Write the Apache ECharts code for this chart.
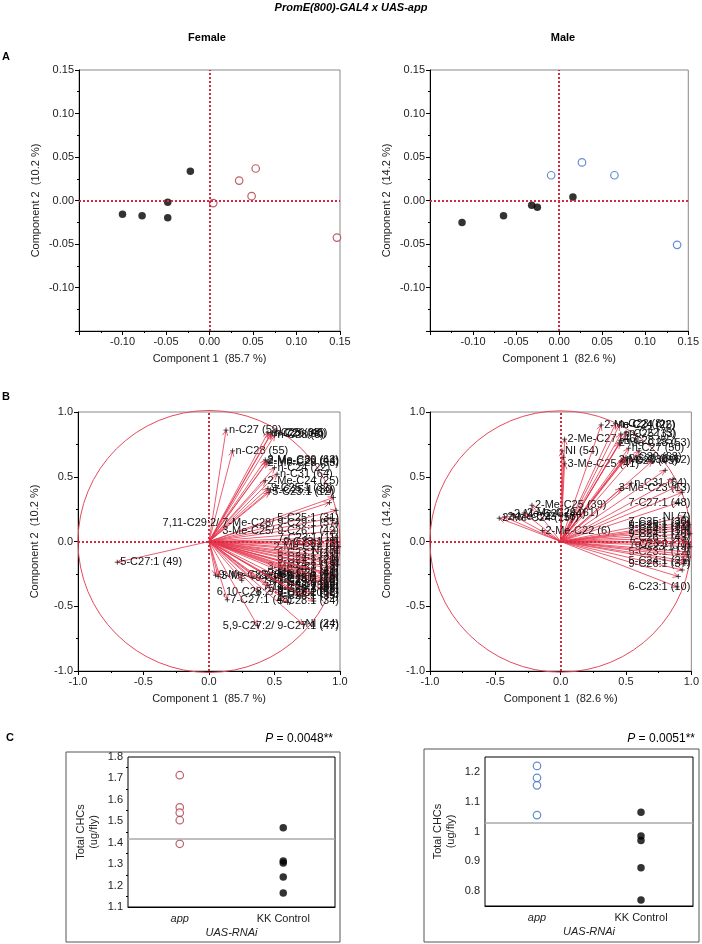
<!DOCTYPE html>
<html>
<head>
<meta charset="utf-8">
<script src="https://cdn.jsdelivr.net/npm/echarts@6/dist/echarts.min.js"></script>
<style>
html, body { margin: 0; padding: 0; background: #fff; }
#chart { width: 702px; height: 944px; }
</style>
</head>
<body>
<div id="chart"></div>
<script>
// ---- panel A : PCA scores ----
var femaleAppX = [0.0043, 0.0341, 0.0484, 0.0531, 0.1465];
var femaleAppY = [-0.003, 0.0229, 0.005, 0.0368, -0.0426];
var femaleCtrlX = [-0.100, -0.0775, -0.048, -0.048, -0.022];
var femaleCtrlY = [-0.0159, -0.0174, -0.002, -0.0198, 0.0337];
var maleAppX = [-0.0093, 0.0265, 0.0642, 0.137];
var maleAppY = [0.029, 0.0438, 0.029, -0.051];
var maleCtrlX = [-0.1128, -0.0646, -0.0319, -0.0253, 0.016];
var maleCtrlY = [-0.0252, -0.0175, -0.0054, -0.0078, 0.0039];

// ---- panel B : loadings ----
var femaleLoadNames = [
  "n-C27 (59)", "n-C28 (55)", "n-C25 (33)", "n-C29 (60)", "n-C23 (8)", "n-C26 (45)",
  "2-Me-C30 (62)", "2-Me-C28 (53)", "2-Me-C26 (44)", "n-C24 (22)", "n-C31 (64)", "2-Me-C24 (25)",
  "9-C25:1 (32)", "7-C25:1 (30)", "5-C23:1 (12)", "", "", "",
  "5-C25:1 (31)", "7,11-C29:2/ 7-Me-C28/ 9-C29:1 (57)", "3-Me-C25/ 9-C26:1 (42)",
  "7-C23:1 (11)", "9-C23:1 (9)", "n-C22 (5)", "2-Me-C22 (6)", "NI (7)", "6-C23:1 (10)",
  "5-C24:1 (21)", "9-C24:1 (20)", "n-C21 (1)", "7-C24:1 (19)", "3-Me-C23 (13)", "7-C26:1 (43)",
  "9-C27:1 (46)", "7,11-C25:2 (28)", "5,9-C25:2 (29)", "9-C29:1 (56)", "n-C30 (63)",
  "7,11-C26:2 (38)", "5,9-C24:2 (17)", "7,11-C24:2 (18)", "9-Me-C26 (41)",
  "5-C27:1 (49)", "9-Me-C25 (36)", "3-Me-C25 (40)", "6,10-C28:2/ 9-C28:1 (52)", "7-C27:1 (48)",
  "NI (24)", "5,9-C27:2/ 9-C27:1 (47)", "9-C27:2 (51)", "7-C28:1 (54)", "5-C29:1 (58)",
  "9-C26:1 (37)", "5-C26:1 (35)", "n-C20 (2)", "5-C28:1 (34)", "", ""
];
var femaleLoadX = [
  0.13, 0.18, 0.45, 0.47, 0.50, 0.48,
  0.43, 0.44, 0.45, 0.50, 0.52, 0.43,
  0.45, 0.47, 0.46, 0.95, 0.92, 0.97,
  0.93, 0.97, 0.96,
  0.97, 0.98, 0.96, 0.99, 0.97, 0.98,
  0.96, 0.97, 0.95, 0.98, 0.94, 0.96,
  0.93, 0.95, 0.92, 0.94, 0.90,
  0.91, 0.88, 0.86, 0.88,
  -0.70, 0.05, 0.07, 0.38, 0.14,
  0.72, 0.37, 0.33, 0.45, 0.55,
  0.62, 0.70, 0.78, 0.80, 0.60, 0.25
];
var femaleLoadY = [
  0.86, 0.70, 0.84, 0.83, 0.82, 0.84,
  0.63, 0.61, 0.62, 0.57, 0.52, 0.47,
  0.41, 0.40, 0.38, 0.34, 0.30, 0.24,
  0.18, 0.14, 0.08,
  0.03, 0.00, -0.02, -0.04, -0.07, -0.09,
  -0.12, -0.14, -0.16, -0.18, -0.20, -0.22,
  -0.25, -0.27, -0.29, -0.31, -0.33,
  -0.35, -0.37, -0.30, -0.24,
  -0.16, -0.26, -0.27, -0.39, -0.45,
  -0.64, -0.65, -0.28, -0.34, -0.40,
  -0.37, -0.42, -0.40, -0.46, -0.47, -0.30
];
var maleLoadNames = [
  "2-Me-C27 (46)", "NI (54)", "3-Me-C25 (41)", "", "2-Me-C24 (26)", "n-C23 (8)",
  "n-C24 (22)", "n-C25 (33)", "n-C22 (5)", "n-C28 (55)", "2-Me-C28 (53)", "n-C27 (50)",
  "n-C29 (60)", "2-Me-C30 (62)", "n-C26 (45)", "n-C30 (63)", "n-C31 (64)", "3-Me-C23 (13)",
  "7-C27:1 (48)", "", "", "2-Me-C25 (39)", "2-Me-C26 (44)", "2-Me-C24 (25)",
  "2-Me-C23 (16)", "2-Me-C29 (61)", "2-Me-C22 (6)", "NI (7)", "7-C25:1 (30)", "9-C25:1 (32)",
  "5-C25:1 (31)", "7-C24:1 (19)", "9-C24:1 (20)", "7-C26:1 (43)", "7-C23:1 (11)", "9-C23:1 (9)",
  "5-C23:1 (12)", "5-C24:1 (21)", "9-C26:1 (37)", "6-C23:1 (10)", "", "",
  "", "", "", "", "", "", ""
];
var maleLoadX = [
  0.03, 0.01, 0.03, 0.02, 0.31, 0.42,
  0.45, 0.46, 0.50, 0.46, 0.45, 0.52,
  0.48, 0.49, 0.47, 0.50, 0.54, 0.46,
  0.90, 0.93, 0.88, -0.22, -0.38, -0.47,
  -0.43, -0.28, -0.14, 0.95, 0.97, 0.98,
  0.96, 0.97, 0.99, 0.95, 0.98, 0.99,
  0.97, 0.96, 0.95, 0.89, 0.97, 0.98,
  0.93, 0.90, 0.96, 0.86, 0.80, 0.70, 0.60
];
var maleLoadY = [
  0.79, 0.70, 0.60, 0.65, 0.90, 0.91,
  0.90, 0.83, 0.84, 0.78, 0.76, 0.72,
  0.64, 0.63, 0.62, 0.65, 0.45, 0.41,
  0.30, 0.38, 0.42, 0.28, 0.21, 0.18,
  0.19, 0.22, 0.085, 0.19, 0.15, 0.13,
  0.11, 0.09, 0.06, 0.03, -0.02, -0.04,
  -0.08, -0.15, -0.17, -0.35, -0.10, -0.12,
  -0.22, -0.27, 0.00, 0.48, 0.55, 0.62, 0.70
];

// ---- panel C : total CHCs ----
var groups = ["app", "KK Control"];
var femaleAppTotal = [1.715, 1.565, 1.54, 1.505, 1.395];
var femaleCtrlTotal = [1.47, 1.315, 1.305, 1.24, 1.165];
var femaleMean = 1.42;
var maleAppTotal = [1.22, 1.18, 1.155, 1.055];
var maleCtrlTotal = [1.065, 0.985, 0.97, 0.878, 0.77];
var maleMean = 1.03;
var maleTotalTicks = [0.8, 0.9, 1, 1.1, 1.2];

var FONT = "Arial, 'Liberation Sans', sans-serif";
var red = "#b03544";
var blue = "#3e6fc0";
var arrowColor = "#e5364c";
var refLine = {
  silent: true,
  symbol: "none",
  label: { show: false },
  lineStyle: { type: "dotted", color: "#d8283c", width: 2 },
  data: [{ xAxis: 0 }, { yAxis: 0 }]
};

var ctx = document.createElement("canvas").getContext("2d");
ctx.font = "11px " + FONT;

function pairs(xs, ys) {
  return xs.map(function (x, i) { return [x, ys[i]]; });
}

function arrows(names) {
  return function (params, api) {
    var o = api.coord([0, 0]);
    var p = api.coord([api.value(0), api.value(1)]);
    var dx = p[0] - o[0], dy = p[1] - o[1];
    var len = Math.sqrt(dx * dx + dy * dy) || 1;
    var ux = dx / len, uy = dy / len;
    var h = 6, c = Math.cos(0.45), s = Math.sin(0.45);
    var l1 = [p[0] - h * (ux * c - uy * s), p[1] - h * (uy * c + ux * s)];
    var l2 = [p[0] - h * (ux * c + uy * s), p[1] - h * (uy * c - ux * s)];
    var edge = api.coord([1, 0])[0];
    var kids = [
      { type: "line", shape: { x1: o[0], y1: o[1], x2: p[0], y2: p[1] }, style: { stroke: arrowColor, lineWidth: 0.8 } },
      { type: "polyline", shape: { points: [l1, p, l2] }, style: { stroke: arrowColor, fill: null, lineWidth: 0.8 } },
      { type: "line", shape: { x1: p[0] - 2.5, y1: p[1], x2: p[0] + 2.5, y2: p[1] }, style: { stroke: "#222", lineWidth: 0.8 } },
      { type: "line", shape: { x1: p[0], y1: p[1] - 2.5, x2: p[0], y2: p[1] + 2.5 }, style: { stroke: "#222", lineWidth: 0.8 } }
    ];
    var name = names[params.dataIndex];
    if (name) {
      var w = ctx.measureText(name).width;
      var tx = Math.min(p[0] + 3, edge - w - 1);
      kids.push({
        type: "text", x: tx, y: p[1],
        style: {
          text: name, fill: "#111", font: "11px " + FONT,
          textAlign: "left", align: "left",
          textVerticalAlign: "middle", verticalAlign: "middle"
        }
      });
    }
    return { type: "group", children: kids };
  };
}

function circle(params, api) {
  var o = api.coord([0, 0]);
  var r = api.size([1, 1])[0];
  return {
    type: "circle",
    shape: { cx: o[0], cy: o[1], r: r },
    style: { fill: null, stroke: "#e44a5c", lineWidth: 1 }
  };
}

var axisText = { fontSize: 11, color: "#222", fontFamily: FONT };
function valueAxis(grid, min, max, step, digits, name, showMin, vertical) {
  return {
    type: "value", gridIndex: grid, min: min, max: max, interval: step,
    name: name, nameLocation: "middle", nameGap: vertical ? 38 : 22,
    nameTextStyle: { fontSize: 11, color: "#222", fontFamily: FONT },
    axisLine: { onZero: false, lineStyle: { color: "#000", width: 1 } },
    axisTick: { length: 4, lineStyle: { color: "#000" } },
    minorTick: { show: true, splitNumber: 2, length: 2, lineStyle: { color: "#000" } },
    splitLine: { show: false },
    axisLabel: Object.assign({ margin: 5, showMinLabel: showMin, formatter: function (v) { return v.toFixed(digits); } }, axisText)
  };
}

function catAxis(grid) {
  return {
    type: "category", gridIndex: grid, data: groups,
    name: "UAS-RNAi", nameLocation: "middle", nameGap: 20,
    nameTextStyle: { fontSize: 11, fontStyle: "italic", color: "#222", fontFamily: FONT },
    axisLine: { lineStyle: { color: "#000" } },
    axisTick: { length: 4, lineStyle: { color: "#000" } },
    axisLabel: Object.assign({
      margin: 6,
      formatter: function (v) { return v === "app" ? "{i|app}" : v; },
      rich: { i: { fontStyle: "italic", fontSize: 11, fontFamily: FONT, color: "#222" } }
    }, axisText)
  };
}

function totalAxis(grid, min, max, step, fmt) {
  return {
    type: "value", gridIndex: grid, min: min, max: max, interval: step,
    name: "Total CHCs\n(ug/fly)", nameLocation: "middle", nameGap: 28,
    nameTextStyle: { fontSize: 11, color: "#222", fontFamily: FONT, lineHeight: 13 },
    axisLine: { lineStyle: { color: "#000" } },
    axisTick: { length: 4, lineStyle: { color: "#000" } },
    minorTick: { show: true, splitNumber: 2, length: 2, lineStyle: { color: "#000" } },
    splitLine: { show: false },
    axisLabel: Object.assign({ margin: 5, formatter: fmt }, axisText)
  };
}

// male total axis: labels and long ticks at 0.1 steps, short ticks at 0.05 steps
var maleTotalAxis = totalAxis(5, 0.75, 1.25, 0.05, function (v) { return String(+v.toFixed(2)); });
maleTotalAxis.minorTick = { show: false };
maleTotalAxis.axisTick.customValues = maleTotalTicks;
maleTotalAxis.axisLabel.customValues = maleTotalTicks;
var maleMinorAxis = {
  type: "value", gridIndex: 5, min: 0.75, max: 1.25, interval: 0.05,
  axisLine: { show: false }, axisLabel: { show: false }, splitLine: { show: false },
  axisTick: { length: 2, lineStyle: { color: "#000" } }
};

function openDots(data, color, xi, yi, mark) {
  var s = {
    type: "scatter", xAxisIndex: xi, yAxisIndex: yi, data: data, symbolSize: 7.5,
    itemStyle: { color: "#fff", borderColor: color, borderWidth: 1.2 }
  };
  if (mark) s.markLine = mark;
  return s;
}
function solidDots(data, xi, yi) {
  return { type: "scatter", xAxisIndex: xi, yAxisIndex: yi, data: data, symbolSize: 7.5, itemStyle: { color: "#000" } };
}
function meanLine(v) {
  return {
    silent: true, symbol: "none", label: { show: false },
    lineStyle: { type: "solid", color: "#aaa", width: 1.5 },
    data: [{ yAxis: v }]
  };
}

var frame = { show: true, borderColor: "#888", borderWidth: 1, backgroundColor: "transparent" };
var chart = echarts.init(document.getElementById("chart"));
chart.setOption({
  backgroundColor: "#fff",
  animation: false,
  grid: [
    Object.assign({ left: 79, top: 70, width: 261, height: 261 }, frame),
    Object.assign({ left: 430, top: 70, width: 263, height: 261 }, frame),
    Object.assign({ left: 78, top: 412, width: 262, height: 259 }, frame),
    Object.assign({ left: 430, top: 412, width: 263, height: 259 }, frame),
    { left: 128, top: 757, width: 207, height: 150, show: true, borderColor: "#000", borderWidth: 1 },
    { left: 485, top: 757, width: 208, height: 149, show: true, borderColor: "#000", borderWidth: 1 },
    { left: 66, top: 752, width: 274, height: 190, show: true, borderColor: "#555", borderWidth: 1, z: 0 },
    { left: 424, top: 749, width: 275, height: 193, show: true, borderColor: "#555", borderWidth: 1, z: 0 }
  ],
  xAxis: [
    valueAxis(0, -0.15, 0.15, 0.05, 2, "Component 1  (85.7 %)", false, false),
    valueAxis(1, -0.15, 0.15, 0.05, 2, "Component 1  (82.6 %)", false, false),
    valueAxis(2, -1, 1, 0.5, 1, "Component 1  (85.7 %)", true, false),
    valueAxis(3, -1, 1, 0.5, 1, "Component 1  (82.6 %)", true, false),
    catAxis(4),
    catAxis(5),
    { type: "value", gridIndex: 6, show: false },
    { type: "value", gridIndex: 7, show: false }
  ],
  yAxis: [
    valueAxis(0, -0.15, 0.15, 0.05, 2, "Component 2  (10.2 %)", false, true),
    valueAxis(1, -0.15, 0.15, 0.05, 2, "Component 2  (14.2 %)", false, true),
    valueAxis(2, -1, 1, 0.5, 1, "Component 2  (10.2 %)", true, true),
    valueAxis(3, -1, 1, 0.5, 1, "Component 2  (14.2 %)", true, true),
    totalAxis(4, 1.1, 1.8, 0.1, function (v) { return v.toFixed(1); }),
    maleTotalAxis,
    { type: "value", gridIndex: 6, show: false },
    { type: "value", gridIndex: 7, show: false },
    maleMinorAxis
  ],
  series: [
    solidDots(pairs(femaleCtrlX, femaleCtrlY), 0, 0),
    openDots(pairs(femaleAppX, femaleAppY), red, 0, 0, refLine),
    solidDots(pairs(maleCtrlX, maleCtrlY), 1, 1),
    openDots(pairs(maleAppX, maleAppY), blue, 1, 1, refLine),
    { type: "custom", xAxisIndex: 2, yAxisIndex: 2, data: [[0, 0]], renderItem: circle, markLine: refLine, silent: true },
    { type: "custom", xAxisIndex: 2, yAxisIndex: 2, data: pairs(femaleLoadX, femaleLoadY), renderItem: arrows(femaleLoadNames), silent: true },
    { type: "custom", xAxisIndex: 3, yAxisIndex: 3, data: [[0, 0]], renderItem: circle, markLine: refLine, silent: true },
    { type: "custom", xAxisIndex: 3, yAxisIndex: 3, data: pairs(maleLoadX, maleLoadY), renderItem: arrows(maleLoadNames), silent: true },
    openDots(femaleAppTotal.map(function (v) { return [groups[0], v]; }), red, 4, 4, meanLine(femaleMean)),
    solidDots(femaleCtrlTotal.map(function (v) { return [groups[1], v]; }), 4, 4),
    openDots(maleAppTotal.map(function (v) { return [groups[0], v]; }), blue, 5, 5, meanLine(maleMean)),
    solidDots(maleCtrlTotal.map(function (v) { return [groups[1], v]; }), 5, 5)
  ],
  graphic: [
    { type: "text", x: 351, y: 8, style: { text: "PromE(800)-GAL4 x UAS-app", font: "italic bold 11px " + FONT, fill: "#000", textAlign: "center", align: "center", textVerticalAlign: "middle", verticalAlign: "middle" } },
    { type: "text", x: 207, y: 38, style: { text: "Female", font: "bold 11px " + FONT, fill: "#000", textAlign: "center", align: "center", textVerticalAlign: "middle", verticalAlign: "middle" } },
    { type: "text", x: 563, y: 38, style: { text: "Male", font: "bold 11px " + FONT, fill: "#000", textAlign: "center", align: "center", textVerticalAlign: "middle", verticalAlign: "middle" } },
    { type: "text", x: 2, y: 57, style: { text: "A", font: "bold 11px " + FONT, fill: "#000", textVerticalAlign: "middle", verticalAlign: "middle" } },
    { type: "text", x: 2, y: 397, style: { text: "B", font: "bold 11px " + FONT, fill: "#000", textVerticalAlign: "middle", verticalAlign: "middle" } },
    { type: "text", x: 6, y: 738, style: { text: "C", font: "bold 11px " + FONT, fill: "#000", textVerticalAlign: "middle", verticalAlign: "middle" } },
    { type: "text", x: 333, y: 739, style: { text: "{i|P} = 0.0048**", font: "12px " + FONT, fill: "#000", textAlign: "right", align: "right", textVerticalAlign: "middle", verticalAlign: "middle", rich: { i: { fontStyle: "italic", fontSize: 12, fontFamily: FONT } } } },
    { type: "text", x: 695, y: 739, style: { text: "{i|P} = 0.0051**", font: "12px " + FONT, fill: "#000", textAlign: "right", align: "right", textVerticalAlign: "middle", verticalAlign: "middle", rich: { i: { fontStyle: "italic", fontSize: 12, fontFamily: FONT } } } }
  ]
});
</script>
</body>
</html>
